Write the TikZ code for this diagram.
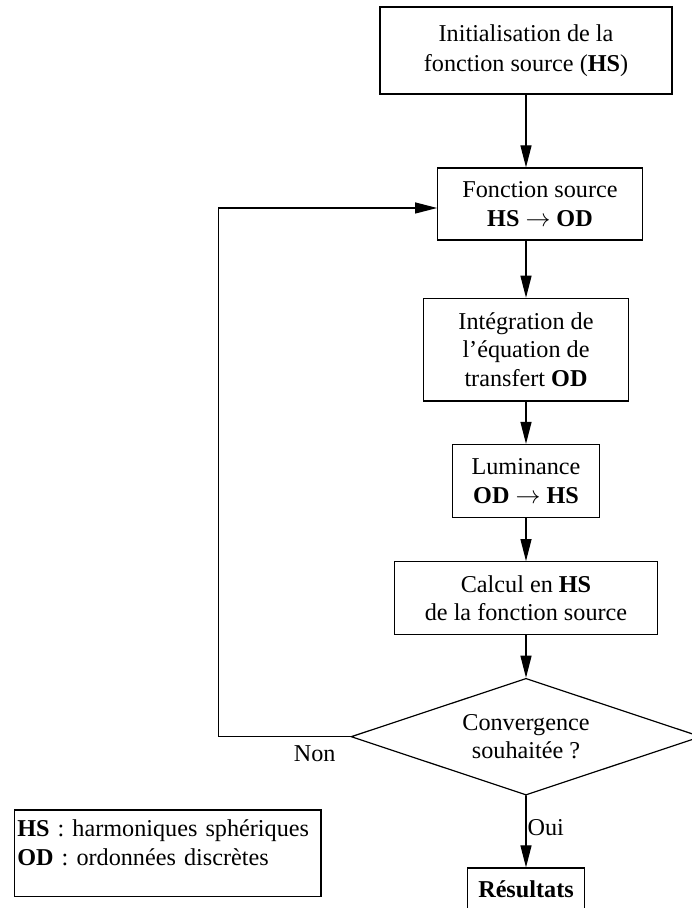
\documentclass[tikz,border=0pt]{standalone}
\usepackage{fontspec}
\setmainfont{Liberation Serif}
\usetikzlibrary{arrows, arrows.meta, calc}
\usetikzlibrary{shapes.geometric}

\begin{document}
\begin{tikzpicture}[x=1pt, y=1pt, >={Triangle[length=22pt, width=11pt]},
	line width=1.2pt, line cap=round, line join=miter,
	font=\fontsize{24.2}{28.5}\selectfont,
	boite/.style={draw, align=center, inner sep=0pt},
	losange/.style={draw, diamond, aspect=3, inner sep=0pt, align=center}]
\useasboundingbox (0,0) rectangle (692,908);
\clip (0,0) rectangle (692,908);
%========================
% boxes of the loop
%========================
	\node[boite, minimum width=292pt, minimum height=87pt] (init) at (526,857.5)
	{Initialisation de la\\[2pt] fonction source (\textbf{HS})};
	\node[boite, minimum width=204.6pt, minimum height=72pt] (fsrc) at (540,704)
	{Fonction source\\ \textbf{HS $\rightarrow$ OD}};
	\node[boite, minimum width=204.7pt, minimum height=102.7pt] (integ) at (526,558.3)
	{Intégration de\\ l’équation de\\ transfert \textbf{OD}};
	\node[boite, minimum width=146.3pt, minimum height=73pt] (lumi) at (526,427)
	{Luminance\\ \textbf{OD $\rightarrow$ HS}};
	\node[boite, minimum width=263.4pt, minimum height=72.6pt] (calcul) at (526,310)
	{Calcul en \textbf{HS}\\ de la fonction source};
	
	% test of convergence
	\node[losange, minimum width=350pt, minimum height=116.7pt] (conv) at (526,171.3)
	{Convergence\\ souhaitée ?};
	\node[boite, minimum width=117.3pt, minimum height=42pt] (res) at (526,19)
	{\textbf{Résultats}};
	
	% legend
	\node[draw, align=left, inner xsep=3pt, inner ysep=0pt, text width=300.7pt,
	minimum height=86.7pt] (legende) at (167.7,54.7)
	{\textbf{HS} : harmoniques sphériques\\ \textbf{OD} : ordonnées discrètes\\[-16pt] \strut};

%========================
% arrows
%========================
	\draw[->] (init) -- (init |- fsrc.north);
	\draw[->] (integ |- fsrc.south) -- (integ);
	\draw[->] (integ) -- (lumi);
	\draw[->] (lumi) -- (calcul);
	\draw[->] (calcul) -- (conv);
	\draw[->] (conv) -- node[right, inner sep=1pt, pos=0.45] {Oui} (res);
	% back to the source function
	\draw[->] (conv.west) -- node[below=5pt, pos=0.27] {Non} ++(-132,0)
	|- ([yshift=-4pt]fsrc.west);
\end{tikzpicture}
\end{document}
